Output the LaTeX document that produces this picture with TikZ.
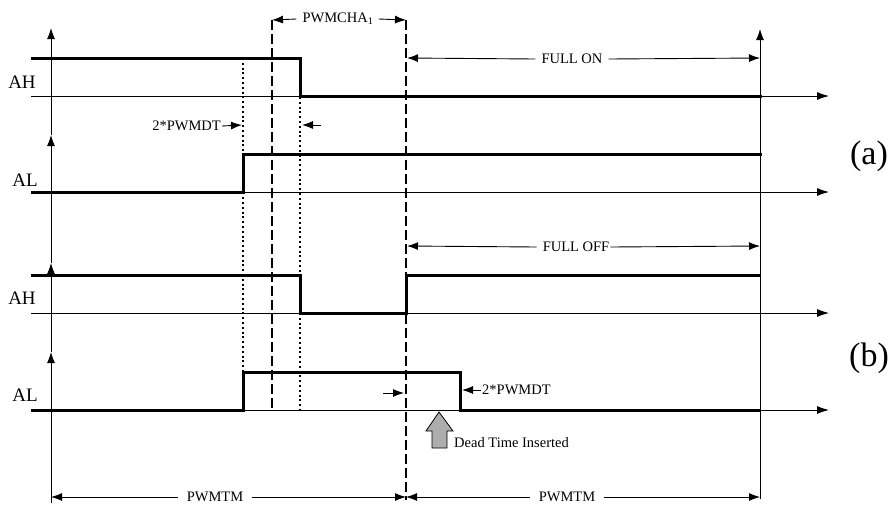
\documentclass[tikz,border=0pt]{standalone}
\usepackage{fontspec}
\setmainfont{Liberation Serif}
\usetikzlibrary{arrows.meta}
\tikzset{
  sig/.style={line width=3pt, line join=miter},
  base/.style={line width=0.9pt, -{Latex[length=12pt,width=8pt]}},
  axisup/.style={line width=0.9pt, -{Latex[length=11pt,width=8pt]}},
  dim/.style={line width=0.9pt, -{Latex[length=11pt,width=8pt]}},
  dashln/.style={line width=2pt, dash pattern=on 10pt off 4pt},
  dotln/.style={line width=2pt, dash pattern=on 2pt off 2.8pt},
  small/.style={font=\fontsize{14.5}{16}\selectfont, inner sep=1pt},
  signame/.style={font=\fontsize{19}{21}\selectfont, inner sep=0pt},
  part/.style={font=\fontsize{34}{38}\selectfont, inner sep=0pt},
}
\begin{document}
\begin{tikzpicture}[x=1pt,y=-1pt]
\useasboundingbox (0,0) rectangle (894,504);
% coordinates
\coordinate (L0) at (51,503);
\coordinate (L1) at (51,352);
\coordinate (L2) at (51,263);
\coordinate (L3) at (51,135);
\coordinate (L4) at (51,28);
\coordinate (R0) at (760,499);
\coordinate (R1) at (760,29);
% left axis
\draw[axisup] (L0) -- (L1);
\draw[axisup] (L1) -- (L2);
\draw[axisup] (L2) -- (L3);
\draw[axisup] (L3) -- (L4);
% right axis
\draw[axisup] (R0) -- (R1);
% baselines
\foreach \y/\n in {96/a, 192/b, 313/c, 410/d}{
  \coordinate (bs\n) at (31,\y);
  \coordinate (be\n) at (829,\y);
  \draw[base] (bs\n) -- (be\n);
}
% dotted lines
\draw[dotln] (243,58) -- (243,372);
\draw[dotln] (300,97) -- (300,410);
% dashed lines
\draw[dashln] (272,20) -- (272,410);
\draw[dashln] (406,20) -- (406,500);
% signals
\draw[sig] (31,58) -- (300,58) -- (300,96) -- (762,96);
\draw[sig] (31,192) -- (243,192) -- (243,154) -- (762,154);
\draw[sig] (31,275) -- (300,275) -- (300,313) -- (406,313) -- (406,275) -- (760,275);
\draw[sig] (31,410) -- (243,410) -- (243,372) -- (460,372) -- (460,410) -- (760,410);
% signal names
\node[signame] (ah1) at (22,82) {AH};
\node[signame] (al1) at (25,180) {AL};
\node[signame] (ah2) at (22,298) {AH};
\node[signame] (al2) at (25,395) {AL};
\node[part] (pa) at (869,156) {(a)};
\node[part] (pb) at (869,358) {(b)};
% PWMCHA1
\node[small] (cha) at (338,19) {PWMCHA\textsubscript{1}};
\coordinate (chaL) at (272,20);
\coordinate (chaR) at (406,20);
\draw[dim] ([xshift=-5pt]cha.west) -- (chaL);
\draw[dim] ([xshift=4pt]cha.east) -- (chaR);
% FULL ON
\node[small] (fon) at (572,59) {FULL ON};
\coordinate (fonL) at (407,58);
\coordinate (fonR) at (760,58);
\draw[dim] ([xshift=-5pt]fon.west) -- (fonL);
\draw[dim] ([xshift=5pt]fon.east) -- (fonR);
% FULL OFF
\node[small] (foff) at (576,247) {FULL OFF};
\coordinate (foffL) at (407,246);
\coordinate (foffR) at (760,246);
\draw[dim] ([xshift=-5pt]foff.west) -- (foffL);
\draw[dim] (foff.east) -- (foffR);
% 2*PWMDT (a)
\node[small, anchor=east] (dt1) at (222,126) {2*PWMDT};
\coordinate (dt1t) at (242,125);
\draw[dim] (dt1.east) -- (dt1t);
\coordinate (dt1s) at (321,125);
\coordinate (dt1e) at (302,125);
\draw[dim] (dt1s) -- (dt1e);
% 2*PWMDT (b)
\coordinate (db1s) at (383,393);
\coordinate (db1e) at (404,393);
\draw[dim] (db1s) -- (db1e);
\node[small, anchor=west] (dt2) at (481,390) {2*PWMDT};
\coordinate (dt2t) at (462,390);
\draw[dim] (dt2.west) -- (dt2t);
% Dead time arrow
\draw[fill=black!32, line width=0.8pt] (439,412) -- (453,431) -- (447,431) -- (447,448) -- (432,448) -- (432,431) -- (426,431) -- cycle;
\node[small, anchor=west] (dti) at (453,443) {Dead Time Inserted};
% PWMTM
\node[small] (tm1) at (215,497) {PWMTM};
\node[small] (tm2) at (567,497) {PWMTM};
\coordinate (tmA) at (51,497);
\coordinate (tmB) at (406,497);
\coordinate (tmC) at (760,497);
\draw[dim] ([xshift=-8pt]tm1.west) -- (tmA);
\draw[dim] ([xshift=8pt]tm1.east) -- (tmB);
\draw[dim] ([xshift=-8pt]tm2.west) -- (tmB);
\draw[dim] ([xshift=8pt]tm2.east) -- (tmC);
\end{tikzpicture}
\end{document}
